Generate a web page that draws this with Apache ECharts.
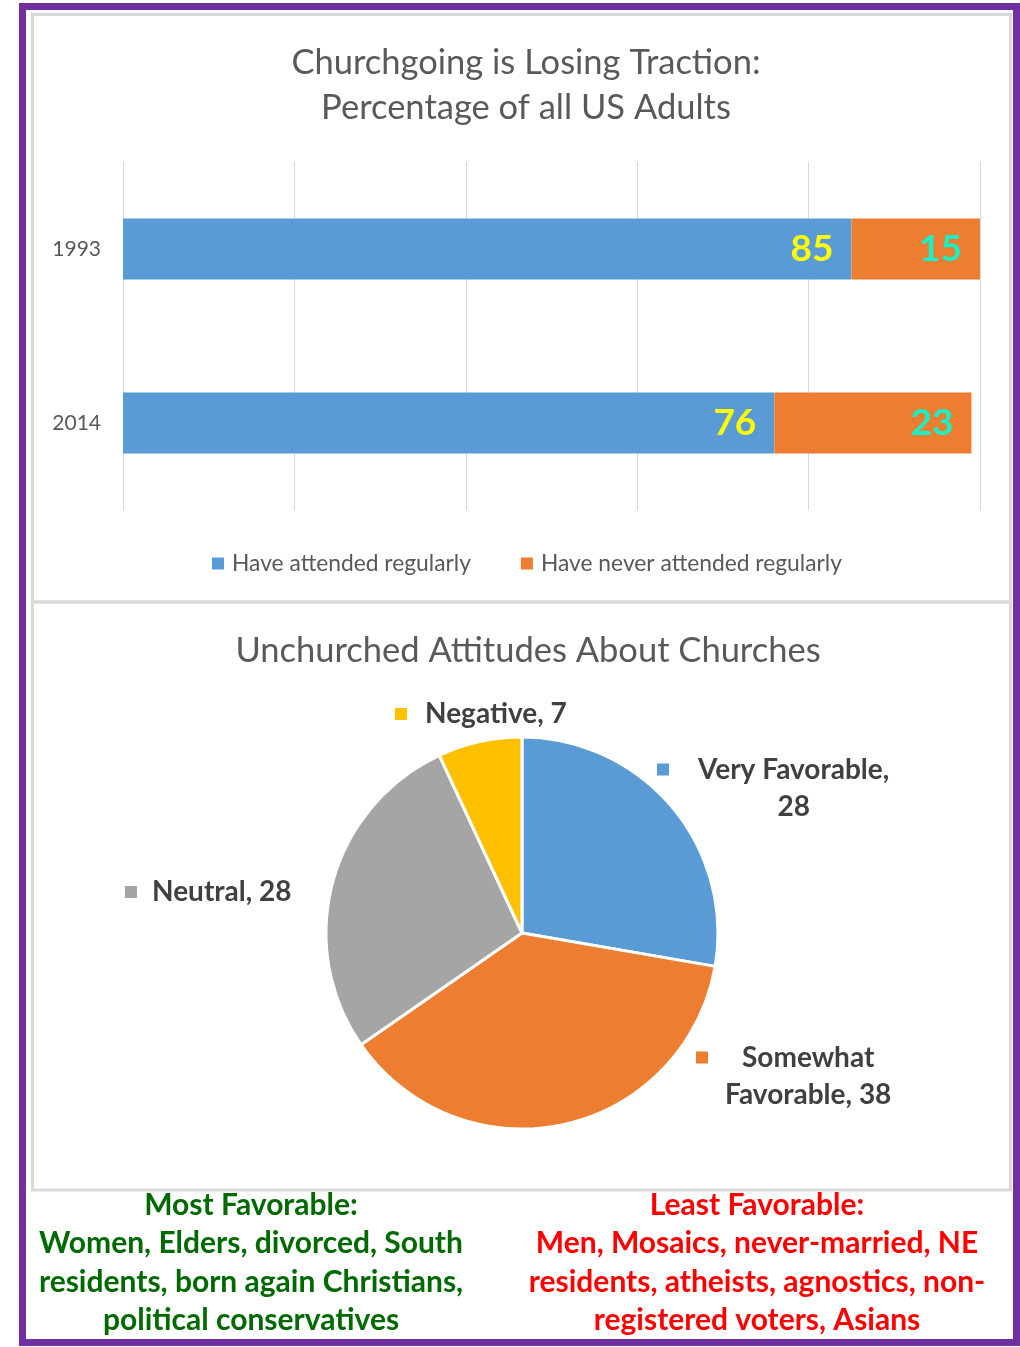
<!DOCTYPE html>
<html>
<head>
<meta charset="utf-8">
<script src="https://cdn.jsdelivr.net/npm/echarts@6/dist/echarts.min.js"></script>
<style>
  html, body { margin: 0; padding: 0; background: #ffffff; }
  #chart { width: 1020px; height: 1347px; }
</style>
</head>
<body>
<div id="chart"></div>
<script>
// ---- data ----
const barCategories = ['1993', '2014'];
const attendedValues = [85, 76];
const neverAttendedValues = [15, 23];
const barSeriesNames = ['Have attended regularly', 'Have never attended regularly'];
const xTicks = [0, 20, 40, 60, 80, 100];

const pieNames = ['Very Favorable', 'Somewhat Favorable', 'Neutral', 'Negative'];
const pieValues = [28, 38, 28, 7];

const barTitle = 'Churchgoing is Losing Traction:\nPercentage of all US Adults';
const pieTitle = 'Unchurched Attitudes About Churches';
const mostFavorableText = 'Most Favorable:\nWomen, Elders, divorced, South\nresidents, born again Christians,\npolitical conservatives';
const leastFavorableText = 'Least Favorable:\nMen, Mosaics, never-married, NE\nresidents, atheists, agnostics, non-\nregistered voters, Asians';

// ---- styles / layout ----
const FONT = 'Lato, "Open Sans", "Noto Sans", sans-serif';
const pieColors = ['#5B9BD5', '#ED7D31', '#A5A5A5', '#FFC000'];
const pieLabelPos = [[657, 788], [696, 1076], [125, 892], [395, 714]];
const pieLabelGap = [29, 17, 15, 18];

function pieLabelText(i) {
  const name = pieNames[i];
  const val = pieValues[i];
  let lines;
  if (i === 0) lines = [name + ',', String(val)];
  else if (i === 1) {
    const parts = name.split(' ');
    lines = [parts[0], parts.slice(1).join(' ') + ', ' + val];
  } else lines = [name + ', ' + val];
  return lines.map((l, k) =>
    (k === 0 ? '{m' + i + '|}{g' + i + '|}' : '{s' + i + '|}') + '{t|' + l + '}'
  ).join('\n');
}

const rich = {
  t: { fontSize: 28, fontWeight: 'bold', color: '#404040', fontFamily: FONT, align: 'center', lineHeight: 37 }
};
for (let i = 0; i < pieNames.length; i++) {
  rich['m' + i] = { width: 12, height: 12, backgroundColor: pieColors[i], align: 'left' };
  rich['g' + i] = { width: pieLabelGap[i], align: 'left' };
  rich['s' + i] = { width: 12 + pieLabelGap[i], align: 'left' };
}

const chart = echarts.init(document.getElementById('chart'), null, { renderer: 'canvas' });

const option = {
  backgroundColor: '#ffffff',
  animation: false,
  title: [
    {
      text: barTitle,
      left: 521, top: 35, textAlign: 'center',
      textStyle: { fontFamily: FONT, fontSize: 34.5, fontWeight: 'normal', color: '#595959', lineHeight: 45 }
    },
    {
      text: pieTitle,
      left: 523, top: 623, textAlign: 'center',
      textStyle: { fontFamily: FONT, fontSize: 34.5, fontWeight: 'normal', color: '#595959', lineHeight: 45 }
    }
  ],
  legend: {
    data: barSeriesNames,
    top: 547, left: 207,
    itemWidth: 12, itemHeight: 12, itemGap: 50,
    icon: 'rect',
    textStyle: { fontFamily: FONT, fontSize: 22.8, color: '#595959', padding: [0, 0, 0, 3] }
  },
  grid: { left: 123, top: 162, width: 857, height: 348, containLabel: false },
  xAxis: {
    type: 'value', min: xTicks[0], max: xTicks[xTicks.length - 1], interval: xTicks[1] - xTicks[0],
    axisLine: { show: false }, axisTick: { show: false }, axisLabel: { show: false },
    splitLine: { show: true, lineStyle: { color: '#D9D9D9', width: 1 } }
  },
  yAxis: {
    type: 'category', data: barCategories, inverse: true,
    axisLine: { show: false }, axisTick: { show: false },
    axisLabel: { fontFamily: FONT, fontSize: 21, color: '#595959', margin: 22 }
  },
  series: [
    {
      name: barSeriesNames[0], type: 'bar', stack: 'total', barWidth: 61,
      data: attendedValues,
      itemStyle: { color: '#5B9BD5' },
      label: { show: true, position: 'insideRight', distance: 18, color: '#FFFF00',
               fontFamily: FONT, fontSize: 37, fontWeight: 'bold' }
    },
    {
      name: barSeriesNames[1], type: 'bar', stack: 'total', barWidth: 61,
      data: neverAttendedValues,
      itemStyle: { color: '#ED7D31' },
      label: { show: true, position: 'insideRight', distance: 18, color: '#19F0C3',
               fontFamily: FONT, fontSize: 37, fontWeight: 'bold' }
    },
    {
      name: 'Attitudes', type: 'pie',
      center: [522, 933], radius: 196,
      startAngle: 90, clockwise: true,
      data: pieNames.map((n, i) => ({ name: n, value: pieValues[i], itemStyle: { color: pieColors[i] } })),
      itemStyle: { borderColor: '#ffffff', borderWidth: 3 },
      label: {
        show: true, position: 'outside',
        formatter: p => pieLabelText(p.dataIndex),
        rich: rich
      },
      labelLine: { show: false },
      labelLayout: p => ({
        x: pieLabelPos[p.dataIndex][0],
        y: pieLabelPos[p.dataIndex][1],
        align: 'left', verticalAlign: 'middle'
      })
    }
  ],
  graphic: [
    { type: 'rect', silent: true, z: 100,
      shape: { x: 22.5, y: 6.5, width: 994, height: 1336 },
      style: { fill: null, stroke: '#7030A0', lineWidth: 7 } },
    { type: 'rect', silent: true, z: 100,
      shape: { x: 32.5, y: 14.5, width: 978, height: 587.5 },
      style: { fill: null, stroke: '#D9D9D9', lineWidth: 3 } },
    { type: 'rect', silent: true, z: 100,
      shape: { x: 32.5, y: 602, width: 978, height: 588 },
      style: { fill: null, stroke: '#D9D9D9', lineWidth: 3 } },
    { type: 'text', silent: true, z: 100, x: 251, y: 1186,
      style: { text: mostFavorableText, textAlign: 'center', fill: '#006A00',
               font: 'bold 30px ' + FONT, lineHeight: 38.5 } },
    { type: 'text', silent: true, z: 100, x: 757, y: 1186,
      style: { text: leastFavorableText, textAlign: 'center', fill: '#FF0000',
               font: 'bold 30px ' + FONT, lineHeight: 38.5 } }
  ]
};
chart.setOption(option);
</script>
</body>
</html>
